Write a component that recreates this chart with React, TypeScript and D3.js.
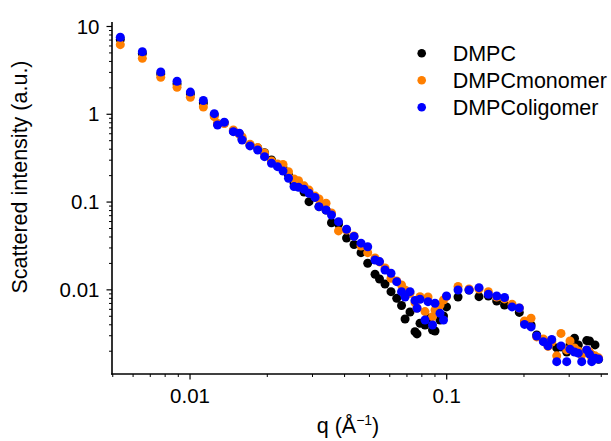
import React from "react";
import * as d3 from "d3";

const qValues = [
  0.00535, 0.00652, 0.00769, 0.0089, 0.01003, 0.01127, 0.01243, 0.0128, 0.0136, 0.01475,
  0.01556, 0.01595, 0.01713, 0.01835, 0.01951, 0.02077, 0.02192, 0.02303, 0.02419, 0.02542,
  0.02647, 0.02781, 0.02908, 0.03069, 0.03181, 0.03388, 0.03557, 0.03789, 0.04072, 0.04355,
  0.04637, 0.04923, 0.05257, 0.05473, 0.0575, 0.06067, 0.06387, 0.06668, 0.06882, 0.07194,
  0.07524, 0.07661, 0.0787, 0.08231, 0.08456, 0.08805, 0.09004, 0.09417, 0.09716, 0.0998,
  0.1107, 0.1222, 0.1336, 0.1453, 0.1566, 0.168, 0.1797, 0.1918, 0.201, 0.2131,
  0.2242, 0.2379, 0.2481, 0.2565, 0.2683, 0.2788, 0.2935, 0.3022, 0.3147, 0.3256,
  0.3357, 0.3511, 0.3601, 0.3673, 0.3783, 0.3904,
];

const iDMPC = [
  7.11, 4.93, 2.88, 2.21, 1.703, 1.345, 0.982, 0.775, 0.796, 0.645,
  0.597, 0.523, 0.447, 0.413, 0.365, 0.302, 0.265, 0.245, 0.204, 0.165,
  0.153, 0.13, 0.101, 0.114, 0.0886, 0.0813, 0.0582, 0.0563, 0.039, 0.0329,
  0.0265, 0.0201, 0.01506, 0.01331, 0.01167, 0.00954, 0.00802, 0.00664, 0.00466, 0.0056,
  0.00334, 0.00315, 0.00417, 0.00398, 0.00479, 0.00349, 0.0034, 0.00454, 0.00504, 0.00639,
  0.0083, 0.00997, 0.00837, 0.00852, 0.00747, 0.00673, 0.00656, 0.00553, 0.00431, 0.00398,
  0.00306, 0.00269, 0.00242, 0.00262, 0.00218, 0.00224, 0.00196, 0.00236, 0.00281, 0.00236,
  0.00186, 0.00264, 0.00262, 0.00181, 0.00236, 0.00162,
];

const iMonomer = [
  6.21, 4.34, 2.64, 2.03, 1.562, 1.211, 0.939, 0.786, 0.786, 0.663,
  0.597, 0.551, 0.455, 0.417, 0.362, 0.294, 0.272, 0.268, 0.222, 0.183,
  0.175, 0.153, 0.137, 0.117, 0.1085, 0.0969, 0.0751, 0.0469, 0.0481, 0.0411,
  0.0316, 0.0265, 0.0231, 0.0208, 0.01776, 0.01355, 0.01263, 0.01137, 0.00997, 0.00915,
  0.00715, 0.00622, 0.00837, 0.00565, 0.0083, 0.00495, 0.0059, 0.00673, 0.00767, 0.00837,
  0.01093, 0.01024, 0.01024, 0.00954, 0.0083, 0.00788, 0.00685, 0.00622, 0.00442, 0.00475,
  0.00291, 0.00276, 0.00227, 0.00255, 0.00177, 0.00319, 0.00207, 0.00262, 0.00218, 0.00201,
  0.00181, 0.00207, 0.00196, 0.00168, 0.00177, 0.00168,
];

const iOligomer = [
  7.53, 5.16, 3.03, 2.38, 1.79, 1.436, 1.016, 0.755, 0.811, 0.634,
  0.608, 0.51, 0.436, 0.392, 0.329, 0.277, 0.253, 0.226, 0.187, 0.15,
  0.147, 0.14, 0.126, 0.113, 0.0886, 0.0813, 0.0713, 0.0598, 0.049, 0.0406,
  0.034, 0.031, 0.0219, 0.021, 0.01685, 0.01546, 0.0124, 0.00954, 0.0083, 0.00954,
  0.00757, 0.00617, 0.00781, 0.00454, 0.00734, 0.00398, 0.00704, 0.00541, 0.00454, 0.00852,
  0.00997, 0.00997, 0.01059, 0.00891, 0.00852, 0.00819, 0.00639, 0.00622, 0.00404, 0.00378,
  0.00298, 0.00257, 0.00231, 0.00272, 0.00152, 0.0023, 0.00152, 0.00211, 0.00196, 0.0019,
  0.00152, 0.00207, 0.00185, 0.00152, 0.00166, 0.00163,
];

const seriesNames = ["DMPC", "DMPCmonomer", "DMPColigomer"];
const seriesColors = ["#000000", "#ff7f00", "#0000ff"];
const seriesValues = [iDMPC, iMonomer, iOligomer];

const xMajorTicks = [0.01, 0.1];
const xMajorLabels = ["0.01", "0.1"];
const yMajorTicks = [0.01, 0.1, 1, 10];
const yMajorLabels = ["0.01", "0.1", "1", "10"];

const xDomain = [0.004966, 0.425];
const yDomain = [0.0011, 11.25];

const FONT = "'Liberation Sans', Arial, Helvetica, sans-serif";

function minorTicks(domain: number[]) {
  const out: number[] = [];
  for (let e = -4; e <= 2; e++) {
    for (let m = 2; m <= 9; m++) {
      const v = m * Math.pow(10, e);
      if (v >= domain[0] && v <= domain[1]) out.push(v);
    }
  }
  return out;
}

export default function App() {
  const W = 611;
  const H = 441;
  const left = 112;
  const right = 608;
  const top = 22;
  const bottom = 374;

  const x = d3.scaleLog().domain(xDomain).range([left, right]);
  const y = d3.scaleLog().domain(yDomain).range([bottom, top]);

  const xMinor = minorTicks(xDomain);
  const yMinor = minorTicks(yDomain);

  return (
    <svg
      width={W}
      height={H}
      style={{ position: "absolute", left: 0, top: 0, display: "block", background: "#fff" }}
      fontFamily={FONT}
    >
      {/* data */}
      {seriesValues.map((vals, si) => (
        <g key={si} fill={seriesColors[si]}>
          {vals.map((v, i) => (
            <circle key={i} cx={x(qValues[i])} cy={y(v)} r={4.5} />
          ))}
        </g>
      ))}

      {/* axes */}
      <g stroke="#000" fill="none">
        <line x1={left} y1={top} x2={left} y2={bottom + 0.8} strokeWidth={1.6} />
        <line x1={left - 0.8} y1={bottom} x2={right} y2={bottom} strokeWidth={1.6} />
        {xMinor.map((t, i) => (
          <line key={"xm" + i} x1={x(t)} x2={x(t)} y1={bottom} y2={bottom + 3} strokeWidth={1} />
        ))}
        {xMajorTicks.map((t, i) => (
          <line key={"xM" + i} x1={x(t)} x2={x(t)} y1={bottom} y2={bottom + 5.5} strokeWidth={1.2} />
        ))}
        {yMinor.map((t, i) => (
          <line key={"ym" + i} y1={y(t)} y2={y(t)} x1={left} x2={left - 3} strokeWidth={1} />
        ))}
        {yMajorTicks.map((t, i) => (
          <line key={"yM" + i} y1={y(t)} y2={y(t)} x1={left} x2={left - 5.5} strokeWidth={1.2} />
        ))}
      </g>

      {/* tick labels */}
      <g fontSize={20.5} fill="#000">
        {xMajorTicks.map((t, i) => (
          <text key={"xl" + i} x={x(t)} y={402.5} textAnchor="middle">
            {xMajorLabels[i]}
          </text>
        ))}
        {yMajorTicks.map((t, i) => (
          <text key={"yl" + i} x={99.5} y={y(t) + 7.2} textAnchor="end">
            {yMajorLabels[i]}
          </text>
        ))}
      </g>

      {/* axis titles */}
      <text
        fontSize={21.5}
        textAnchor="middle"
        transform={`translate(27,${(61 + 293) / 2}) rotate(-90)`}
      >
        Scattered intensity (a.u.)
      </text>
      <text fontSize={21.5} x={348} y={433} textAnchor="middle">
        q (Å
        <tspan fontSize={14} dy={-8}>−1</tspan>
        <tspan dy={8}>)</tspan>
      </text>

      {/* legend */}
      {seriesNames.map((name, i) => (
        <g key={"lg" + i}>
          <circle cx={421.7} cy={53.3 + i * 27} r={4.3} fill={seriesColors[i]} />
          <text x={452.7} y={53.3 + i * 27 + 7.5} fontSize={21.5} fill="#000">
            {name}
          </text>
        </g>
      ))}
    </svg>
  );
}
